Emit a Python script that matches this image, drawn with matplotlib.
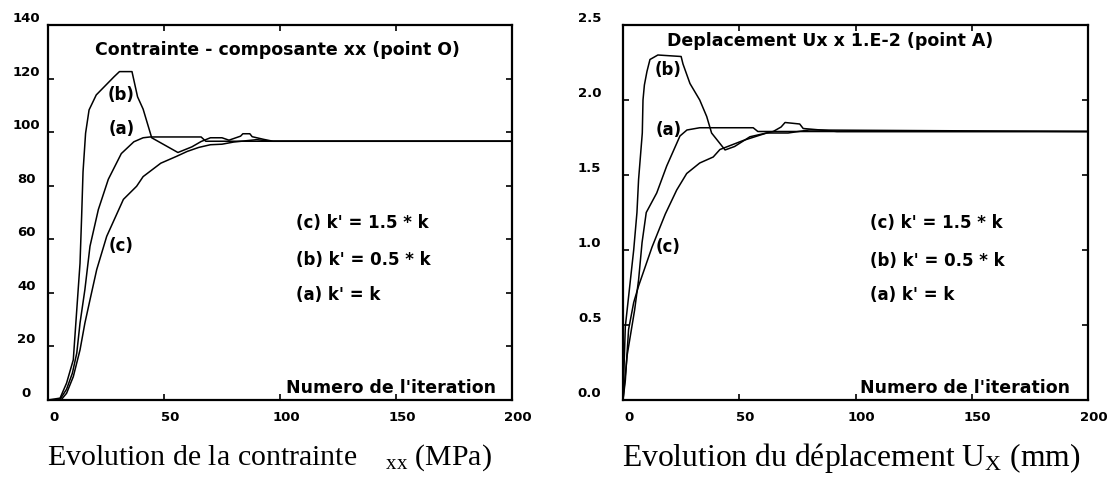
import matplotlib
matplotlib.use("Agg")
import matplotlib.pyplot as plt
import matplotlib.transforms as mtransforms

plt.rcParams["mathtext.fontset"] = "custom"
plt.rcParams["mathtext.rm"] = "Liberation Serif"
plt.rcParams["mathtext.it"] = "Liberation Serif:italic"

# Left panel: contrainte sigma_xx (MPa) vs numero de l'iteration
it_a_sig = [0, 5, 8, 10.5, 12.4, 13.8, 15.9, 18.1, 21.7, 26, 31.6, 37, 41, 44, 66, 68, 200]
sig_a = [0, 0, 4, 10, 17.5, 28.7, 41.2, 57.4, 71.1, 82.4, 92, 96.4, 97.9, 98.2, 98.2, 96.6, 96.6]

it_b_sig = [0, 5.2, 8, 10.9, 12.4, 13.8, 14.5, 15.1, 16.2, 17.7, 20.8, 28.5, 30.8, 36.2, 38.6,
            41, 44.7, 56, 62, 66, 70, 75, 78, 83, 84, 87, 88, 93, 97, 200]
sig_b = [0, 0.7, 6.3, 15, 33.7, 51, 68.6, 85.2, 99.6, 108.3, 113.9, 120.7, 122.6, 122.6, 113.2,
         108.6, 97.9, 92.4, 94.5, 96.5, 97.9, 97.9, 97.0, 98.5, 99.4, 99.4, 98.3, 97.3, 96.6, 96.6]

it_c_sig = [0, 5.6, 8, 10.9, 13.8, 15.9, 18.1, 21, 25.3, 32.5, 38.2, 41, 48.6, 55.5, 60, 65,
            70, 75, 80, 90, 96, 200]
sig_c = [0, 0, 2.5, 8.7, 18.7, 28.7, 37.4, 48.7, 61.1, 74.9, 79.8, 83.4, 88.4, 91, 92.8, 94.3,
         95.3, 95.5, 96.3, 97.2, 96.6, 96.6]

# Right panel: deplacement Ux x 1.E-2 vs numero de l'iteration
it_a_ux = [0, 1.8, 5, 6.7, 8.2, 10, 14.5, 18.8, 24.5, 27.5, 33, 37, 56, 58, 200]
ux_a = [0, 0.3, 0.6, 0.8, 1.05, 1.25, 1.38, 1.56, 1.76, 1.80, 1.815, 1.815, 1.815, 1.79, 1.79]

it_b_ux = [0, 1, 4.6, 6, 6.7, 8.3, 8.6, 9.2, 10.3, 11.6, 15, 25, 25.8, 28.8, 33, 36, 38.1,
           43.9, 48, 54.6, 64.6, 68, 69.7, 76, 77.5, 85, 92, 200]
ux_b = [0, 0.49, 1.0, 1.25, 1.47, 1.78, 2.0, 2.1, 2.19, 2.27, 2.30, 2.29, 2.24, 2.11, 2.0, 1.89,
        1.78, 1.667, 1.69, 1.755, 1.79, 1.82, 1.85, 1.84, 1.81, 1.80, 1.79, 1.79]

it_c_ux = [0, 1, 2.4, 4.6, 6.7, 9.6, 12.5, 18.2, 23.1, 27.4, 33, 38.8, 41.7, 51.7, 61.8, 71, 80, 200]
ux_c = [0, 0.13, 0.47, 0.65, 0.76, 0.89, 1.02, 1.24, 1.40, 1.51, 1.58, 1.62, 1.67, 1.73, 1.78,
        1.78, 1.80, 1.79]

x_ticks = [0, 50, 100, 150, 200]
x_ticklabels = ["0", "50", "100", "150", "200"]
sig_ticks = [0, 20, 40, 60, 80, 100, 120, 140]
sig_ticklabels = ["0", "20", "40", "60", "80", "100", "120", "140"]
ux_ticks = [0.0, 0.5, 1.0, 1.5, 2.0, 2.5]
ux_ticklabels = ["0.0", "0.5", "1.0", "1.5", "2.0", "2.5"]

legend_lines = ["(c) k' = 1.5 * k", "(b) k' = 0.5 * k", "(a) k' = k"]

fig = plt.figure(figsize=(11.16, 4.84), dpi=100)
ax1 = fig.add_axes([48 / 1116, 84 / 484, 464 / 1116, 375 / 484])
ax2 = fig.add_axes([623 / 1116, 84 / 484, 465 / 1116, 375 / 484])

bold = dict(family="DejaVu Sans", fontweight="bold", color="black")


def style_axes(ax, yticks, yticklabels, ymax, ypad):
    ax.set_xlim(0, 200)
    ax.set_ylim(0, ymax)
    ax.set_xticks(x_ticks)
    ax.set_xticklabels(x_ticklabels, fontsize=9.5, **bold)
    ax.set_yticks(yticks)
    ax.set_yticklabels(yticklabels, fontsize=9.5, ha="center", va="bottom", **bold)
    ax.tick_params(direction="in", length=4, width=1.2, top=True, right=True)
    ax.tick_params(axis="x", pad=8)
    ax.tick_params(axis="y", pad=ypad)
    for sp in ax.spines.values():
        sp.set_linewidth(1.6)
    shift = mtransforms.ScaledTranslation(6 / 100, 0, fig.dpi_scale_trans)
    for lab in ax.get_xticklabels():
        lab.set_transform(lab.get_transform() + shift)


# left panel
ax1.plot(it_a_sig, sig_a, color="black", lw=1.1)
ax1.plot(it_b_sig, sig_b, color="black", lw=1.1)
ax1.plot(it_c_sig, sig_c, color="black", lw=1.1)
style_axes(ax1, sig_ticks, sig_ticklabels, 140, 15.5)
ax1.text(99, 130.7, "Contrainte - composante xx (point O)", ha="center", va="center", fontsize=12.5, **bold)
ax1.text(31.6, 114, "(b)", ha="center", va="center", fontsize=12, **bold)
ax1.text(31.6, 101, "(a)", ha="center", va="center", fontsize=12, **bold)
ax1.text(31.3, 57.4, "(c)", ha="center", va="center", fontsize=12, **bold)
for txt, yy in zip(legend_lines, [66.2, 52.3, 39.2]):
    ax1.text(107, yy, txt, ha="left", va="center", fontsize=12, **bold)
ax1.text(193, 4.6, "Numero de l'iteration", ha="right", va="center", fontsize=12.5, **bold)

# right panel
ax2.plot(it_a_ux, ux_a, color="black", lw=1.1)
ax2.plot(it_b_ux, ux_b, color="black", lw=1.1)
ax2.plot(it_c_ux, ux_c, color="black", lw=1.1)
style_axes(ax2, ux_ticks, ux_ticklabels, 2.5, 24)
ax2.text(89, 2.39, "Deplacement Ux x 1.E-2 (point A)", ha="center", va="center", fontsize=12.5, **bold)
ax2.text(19.5, 2.2, "(b)", ha="center", va="center", fontsize=12, **bold)
ax2.text(19.5, 1.8, "(a)", ha="center", va="center", fontsize=12, **bold)
ax2.text(19.5, 1.02, "(c)", ha="center", va="center", fontsize=12, **bold)
for txt, yy in zip(legend_lines, [1.18, 0.93, 0.70]):
    ax2.text(106.3, yy, txt, ha="left", va="center", fontsize=12, **bold)
ax2.text(192.3, 0.08, "Numero de l'iteration", ha="right", va="center", fontsize=12.5, **bold)

# captions
fig.text(47 / 1116, 19 / 484, r"Evolution de la contrainte $\ \ \ {}_{\mathrm{xx}}$ (MPa)",
         family="Liberation Serif", fontsize=21.5, ha="left", va="baseline")
fig.text(622 / 1116, 18 / 484, r"Evolution du déplacement U$_{\mathrm{X}}$ (mm)",
         family="Liberation Serif", fontsize=22.8, ha="left", va="baseline")

fig.savefig("out.png", dpi=100)
